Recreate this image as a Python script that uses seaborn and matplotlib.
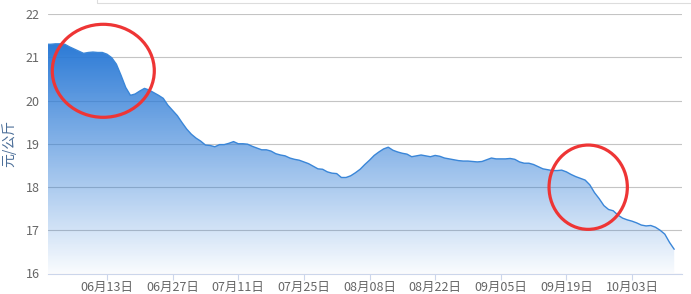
import numpy as np
import pandas as pd
import matplotlib
matplotlib.use("Agg")
import matplotlib.pyplot as plt
import matplotlib.dates as mdates
from matplotlib.patches import Ellipse, Rectangle, PathPatch
import seaborn as sns

# ---------------- data ----------------
start_date = "2024-05-31"
prices = [
    21.30, 21.30, 21.31, 21.31, 21.30, 21.24, 21.19, 21.14, 21.09, 21.11,
    21.12, 21.11, 21.11, 21.07, 20.99, 20.84, 20.58, 20.30, 20.12, 20.15,
    20.22, 20.28, 20.24, 20.18, 20.12, 20.05, 19.89, 19.77, 19.65, 19.49,
    19.34, 19.22, 19.13, 19.06, 18.97, 18.96, 18.93, 18.98, 18.98, 19.01,
    19.05, 19.00, 19.00, 18.99, 18.94, 18.90, 18.86, 18.86, 18.83, 18.77,
    18.74, 18.72, 18.67, 18.64, 18.62, 18.58, 18.54, 18.48, 18.42, 18.41,
    18.35, 18.32, 18.31, 18.22, 18.22, 18.26, 18.33, 18.41, 18.52, 18.62,
    18.73, 18.81, 18.88, 18.92, 18.85, 18.81, 18.78, 18.76, 18.70, 18.72,
    18.74, 18.72, 18.70, 18.73, 18.71, 18.67, 18.65, 18.63, 18.61, 18.60,
    18.60, 18.59, 18.58, 18.59, 18.63, 18.67, 18.65, 18.65, 18.65, 18.66,
    18.64, 18.58, 18.55, 18.55, 18.52, 18.47, 18.42, 18.40, 18.38, 18.38,
    18.39, 18.35, 18.29, 18.24, 18.20, 18.16, 18.05, 17.87, 17.73, 17.57,
    17.48, 17.45, 17.35, 17.28, 17.24, 17.21, 17.17, 17.12, 17.10, 17.11,
    17.07, 17.00, 16.91, 16.72, 16.56,
]
tick_dates = ["2024-06-13", "2024-06-27", "2024-07-11", "2024-07-25",
              "2024-08-08", "2024-08-22", "2024-09-05", "2024-09-19",
              "2024-10-03"]
tick_labels = ["06月13日", "06月27日", "07月11日", "07月25日", "08月08日",
               "08月22日", "09月05日", "09月19日", "10月03日"]
y_ticks = [16, 17, 18, 19, 20, 21, 22]
y_label = "元/公斤"

# ---------------- style ----------------
sns.set_theme(style="white")
plt.rcParams['font.family'] = ['Noto Sans CJK SC', 'DejaVu Sans']

W, H = 691, 294
fig = plt.figure(figsize=(W / 100, H / 100), dpi=100)
L, R, T, B = 48, 681.7, 14, 273.5
ax = fig.add_axes([L / W, 1 - B / H, (R - L) / W, (B - T) / H])

df = pd.DataFrame({"date": pd.date_range(start_date, periods=len(prices), freq="D"),
                   "price": prices})
xnum = mdates.date2num(df["date"])

# gradient area
poly = ax.fill_between(xnum, df["price"], 16, facecolor="none", edgecolor="none")
clip = PathPatch(poly.get_paths()[0], transform=ax.transData, facecolor="none", edgecolor="none")
ax.add_patch(clip)
n = 256
grad = np.zeros((n, 1, 4))
base = np.array([0.17, 0.48, 0.84])
t = np.linspace(1, 0, n)
grad[:, 0, :3] = base
grad[:, 0, 3] = 0.03 + 0.97 * t
im = ax.imshow(grad, extent=[xnum[0], xnum[-1], 16, max(prices)], aspect="auto",
               origin="upper", zorder=2, interpolation="bilinear")
im.set_clip_path(clip)

sns.lineplot(data=df, x="date", y="price", color="#3a86d8", linewidth=1.0, ax=ax, zorder=3)

# axes
day0 = mdates.date2num(pd.Timestamp(tick_dates[0]))
px_per_day = 4.6875
ax.set_xlim(day0 + (L - 107) / px_per_day, day0 + (R - 107) / px_per_day)
ax.set_ylim(16, 22)
ax.set_yticks(y_ticks)
ax.set_yticklabels([str(v) for v in y_ticks])
ax.set_xticks(mdates.date2num(pd.to_datetime(tick_dates)))
ax.set_xticklabels(tick_labels)
ax.set_xlabel("")
ax.set_ylabel(y_label, color="#4b6e98", fontsize=10, fontweight="medium")
ax.yaxis.set_label_coords((16 - L) / (R - L), 0.5)

ax.yaxis.grid(True, color="#c4c4c4", linewidth=0.8)
ax.xaxis.grid(False)
ax.set_axisbelow(True)
for s in ["top", "right", "left"]:
    ax.spines[s].set_visible(False)
ax.spines["bottom"].set_color("#ccd6eb")
ax.spines["bottom"].set_linewidth(0.8)
ax.spines["bottom"].set_zorder(4)
ax.tick_params(axis="x", colors="#ccd6eb", length=4, width=0.8, direction="out",
               labelcolor="#666666", labelsize=9, pad=1, bottom=True)
ax.tick_params(axis="y", length=0, labelcolor="#666666", labelsize=9, pad=6)

# red annotation circles (figure pixel positions)
for cx, cy, w, h in [(103.3, 70.8, 102, 93), (588.2, 187.2, 78.3, 84.3)]:
    e = Ellipse((cx / W, 1 - cy / H), w / W, h / H, transform=fig.transFigure,
                facecolor="none", edgecolor="#ee3535", linewidth=2.3, zorder=10)
    fig.patches.append(e)

# partial box at top
fig.patches.append(Rectangle((97.3 / W, 1 - 2.7 / H), (W + 10 - 97.3) / W, 10 / H,
                             transform=fig.transFigure, facecolor="none",
                             edgecolor="#dddddd", linewidth=0.8))

fig.savefig("out.png", dpi=100)
